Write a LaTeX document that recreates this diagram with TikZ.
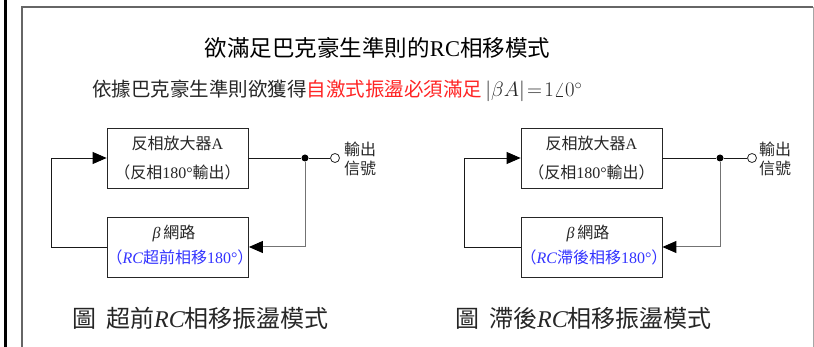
\documentclass[tikz,border=0pt]{standalone}
\usepackage{fontspec}
\setmainfont{Liberation Serif}
\newfontfamily\cjk{Noto Sans CJK TC}
\usetikzlibrary{arrows.meta}
\definecolor{myblue}{RGB}{51,51,255}
\definecolor{myred}{RGB}{255,36,36}
\begin{document}
\begin{tikzpicture}[x=1pt,y=-1pt,
  blk/.style={draw=black!85, line width=0.8pt, minimum width=141pt, minimum height=60pt, inner sep=0pt, fill=white},
  boxtxt/.style={font=\cjk\fontsize{16}{16}\selectfont, inner sep=0pt, text=black!85},
  bluetxt/.style={boxtxt, text=myblue},
  outtxt/.style={font=\cjk\fontsize{16}{16}\selectfont, inner sep=0pt, anchor=west, text=black!85},
  capt/.style={font=\cjk\fontsize{24}{24}\selectfont, inner sep=0pt, anchor=west, text=black!85},
  jdot/.style={circle, fill=black, inner sep=0pt, minimum size=7pt},
  odot/.style={circle, draw=black!85, fill=white, inner sep=0pt, minimum size=9pt, line width=0.8pt},
  wire/.style={draw=black!90, line width=0.8pt},
  gwire/.style={draw=black!55, line width=1pt},
  tip/.style={-{Triangle[length=14pt,width=12pt,color=black]}}
]
\useasboundingbox (0,0) rectangle (814,347);
% frame
\fill[black] (4,0) rectangle (6.5,347);
\draw[black!60, line width=1.3pt] (22,347) -- (22,7) -- (813,7);
\draw[black!35, line width=1pt] (813,7) -- (813,347);

% headings
\node[font=\cjk\fontsize{22.5}{24}\selectfont, inner sep=0pt] (title) at (377.5,48)
  {欲滿足巴克豪生準則的{\rmfamily RC}相移模式};
\node[font=\cjk\fontsize{19.5}{22}\selectfont, inner sep=0pt, anchor=west, text=black!85] (cond) at (92,91)
  {依據巴克豪生準則欲獲得\textcolor{myred}{自激式振盪必須滿足}\,{\rmfamily$\left|\beta A\right|\!=\!1\angle 0^\circ$}};

% ---------- left diagram ----------
\node[blk] (A1) at (177.5,158) {};
\node[blk] (B1) at (178,247) {};
\node[boxtxt] (A1a) at (177.5,143) {反相放大器{\rmfamily A}};
\node[boxtxt] (A1b) at (177.5,172) {（反相{\rmfamily 180°}輸出）};
\node[boxtxt] (B1a) at (174,233) {{\rmfamily\itshape β}\,網路};
\node[bluetxt] (B1b) at (180,257) {（{\rmfamily\itshape RC}超前相移{\rmfamily 180°}）};
\node[jdot] (d1) at (305,158) {};
\node[odot] (o1) at (335,158) {};
\node[outtxt] (o1a) at (344,149) {輸出};
\node[outtxt] (o1b) at (344,168) {信號};
\coordinate (L1) at (51,247);
\draw[wire] (A1.east) -- (d1) -- (o1);
\draw[gwire, tip] (d1) |- (B1.east);
\draw[wire, tip] (B1.west) -- (L1) |- (A1.west);

% ---------- right diagram ----------
\node[blk] (A2) at (591.5,158) {};
\node[blk] (B2) at (591.5,247) {};
\node[boxtxt] (A2a) at (591.5,143) {反相放大器{\rmfamily A}};
\node[boxtxt] (A2b) at (591.5,172) {（反相{\rmfamily 180°}輸出）};
\node[boxtxt] (B2a) at (588,233) {{\rmfamily\itshape β}\,網路};
\node[bluetxt] (B2b) at (594,257) {（{\rmfamily\itshape RC}滯後相移{\rmfamily 180°}）};
\node[jdot] (d2) at (720,158) {};
\node[odot] (o2) at (752,158) {};
\node[outtxt] (o2a) at (759,149) {輸出};
\node[outtxt] (o2b) at (759,168) {信號};
\coordinate (L2) at (464,247);
\draw[wire] (A2.east) -- (d2) -- (o2);
\draw[gwire, tip] (d2) |- (B2.east);
\draw[wire, tip] (B2.west) -- (L2) |- (A2.west);

% captions
\node[capt] (cap1) at (72,318) {圖\hspace{10pt}超前{\rmfamily\itshape RC}相移振盪模式};
\node[capt] (cap2) at (455,318) {圖\hspace{10pt}滯後{\rmfamily\itshape RC}相移振盪模式};
\end{tikzpicture}
\end{document}
